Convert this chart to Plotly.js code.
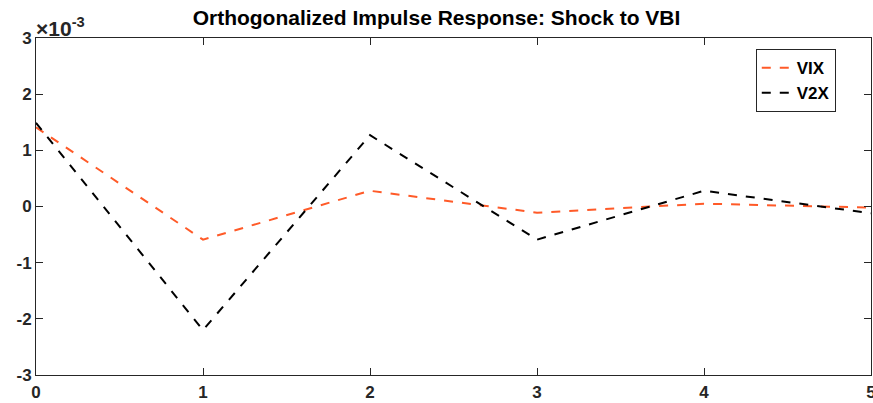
<!DOCTYPE html>
<html><head><meta charset="utf-8">
<script src="https://cdn.plot.ly/plotly-3.0.1.min.js"></script>
<style>html,body{margin:0;padding:0;background:#fff}#chart{width:873px;height:403px}</style>
</head><body><div id="chart"></div>
<script>
const steps = [0, 1, 2, 3, 4, 5];
const vix = [1.41e-3, -0.59e-3, 0.28e-3, -0.11e-3, 0.05e-3, -0.02e-3];
const v2x = [1.49e-3, -2.20e-3, 1.27e-3, -0.59e-3, 0.28e-3, -0.12e-3];
const yTicks = [-3e-3, -2e-3, -1e-3, 0, 1e-3, 2e-3, 3e-3];
const yTickText = ['-3', '-2', '-1', '0', '1', '2', '3'];
const xTicks = [0, 1, 2, 3, 4, 5];

const fontFam = 'Liberation Sans, Arial, sans-serif';
const traces = [
  {x: steps, y: vix, name: '<b>VIX</b>', mode: 'lines', line: {color: '#ff5a28', width: 2, dash: 'dash'}},
  {x: steps, y: v2x, name: '<b>V2X</b>', mode: 'lines', line: {color: '#000000', width: 2, dash: 'dash'}}
];
const axisCommon = {
  showline: true, linecolor: '#262626', linewidth: 1, mirror: 'ticks',
  ticks: 'inside', ticklen: 7, tickcolor: '#262626', showgrid: false, zeroline: false,
  ticklabeloverflow: 'allow',
  tickfont: {family: fontFam, size: 17, color: '#262626', weight: 'bold'}
};
const layout = {
  width: 873, height: 403,
  margin: {l: 36, r: 2, t: 38, b: 28},
  paper_bgcolor: '#fff', plot_bgcolor: '#fff',
  showlegend: true,
  title: {text: '<b>Orthogonalized Impulse Response: Shock to VBI</b>', x: 0.5, xanchor: 'center', y: 0.955, yanchor: 'middle',
    font: {family: fontFam, size: 21, color: '#000'}},
  xaxis: Object.assign({}, axisCommon, {range: [0, 5], tickvals: xTicks, ticktext: xTicks.map(v => '<b>' + v + '</b>'), ticklabelstandoff: 2}),
  yaxis: Object.assign({}, axisCommon, {range: [-3e-3, 3e-3], tickvals: yTicks, ticktext: yTickText.map(v => '<b>' + v + '</b>')}),
  legend: {x: 0.862, y: 0.967, xanchor: 'left', yanchor: 'top', bordercolor: '#262626', borderwidth: 1,
    bgcolor: '#fff', font: {family: fontFam, size: 17, color: '#000', weight: 'bold'}, tracegroupgap: 0,
    entrywidth: 62},
  annotations: [{text: '<b>×10<sup>-3</sup></b>', xref: 'paper', yref: 'paper', x: 0, y: 1, xanchor: 'left', yanchor: 'bottom',
    showarrow: false, yshift: -4, xshift: -2, font: {family: fontFam, size: 21, color: '#262626'}}]
};
Plotly.newPlot('chart', traces, layout, {displayModeBar: false, staticPlot: true});
</script></body></html>
